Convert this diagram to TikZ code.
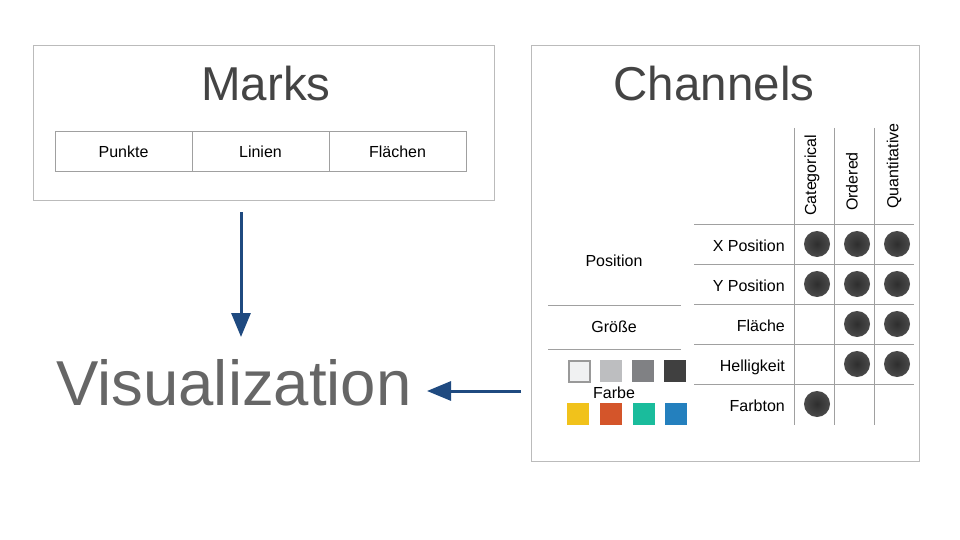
\documentclass[tikz,border=0pt]{standalone}
\usepackage{fontspec}
\setmainfont{Liberation Sans}
\usetikzlibrary{arrows.meta}
\definecolor{boxgray}{HTML}{BBBBBB}
\definecolor{linegray}{HTML}{A0A0A0}
\definecolor{titlegray}{HTML}{444444}
\definecolor{visgray}{HTML}{666666}
\definecolor{arrowblue}{HTML}{1F4A80}
\definecolor{gA}{HTML}{F0F1F2}
\definecolor{gB}{HTML}{BDBEC0}
\definecolor{gC}{HTML}{808184}
\definecolor{gD}{HTML}{404040}
\definecolor{cA}{HTML}{F1C21B}
\definecolor{cB}{HTML}{D4552A}
\definecolor{cC}{HTML}{1ABC9C}
\definecolor{cD}{HTML}{2480BE}
\definecolor{dotin}{HTML}{2E2E2E}
\definecolor{dotout}{HTML}{4A4A4A}
\tikzset{
  panel/.style={draw=boxgray, line width=1pt, inner sep=0pt, anchor=north west},
  bigtitle/.style={text=titlegray, font=\fontsize{47.5}{50}\selectfont, anchor=base, inner sep=0pt},
  small/.style={font=\fontsize{16}{19}\selectfont, inner sep=0pt, text=black},
  cell/.style={draw=linegray, line width=1pt, minimum width=137pt, minimum height=40pt, inner sep=0pt, font=\fontsize{16}{19}\selectfont},
  grid/.style={draw=linegray, line width=1pt},
  dot/.style={circle, minimum size=26pt, inner sep=0pt, shading=radial, inner color=dotin, outer color=dotout},
  swatch/.style={minimum size=22pt, inner sep=0pt, anchor=north west},
  arr/.style={draw=arrowblue, line width=3pt, -{Triangle[length=24pt,width=19pt]}},
}
\begin{document}
\begin{tikzpicture}[x=1pt,y=-1pt]
\useasboundingbox[fill=white] (0,0) rectangle (960,540);

% Marks panel
\node[panel, minimum width=461pt, minimum height=155pt] (marks) at (33,45) {};
\node[bigtitle] (markstitle) at (266,101) {Marks};
\node[cell] (punkte) at (123.5,152) {Punkte};
\node[cell] (linien) at (260.5,152) {Linien};
\node[cell] (flaechen) at (397.5,152) {Flächen};

% Channels panel
\node[panel, minimum width=388pt, minimum height=416pt] (channels) at (531,45) {};
\node[bigtitle] (chantitle) at (714,101) {Channels};

% grid lines
\foreach \x in {794,834,874} \draw[grid] (\x,128) -- (\x,425);
\foreach \y in {224,264,304,344,384} \draw[grid] (694,\y) -- (914,\y);
\draw[grid] (548,305) -- (681,305);
\draw[grid] (548,349) -- (681,349);

% column headers
\node[small, rotate=90, anchor=west] (hcat) at (812,216) {Categorical};
\node[small, rotate=90, anchor=west] (hord) at (852,211) {Ordered};
\node[small, rotate=90, anchor=west] (hquan) at (894,209) {Quantitative};

% row labels
\node[small, anchor=base east] (rx) at (785,251) {X Position};
\node[small, anchor=base east] (ry) at (785,291) {Y Position};
\node[small, anchor=base east] (rf) at (785,331) {Fläche};
\node[small, anchor=base east] (rh) at (785,371) {Helligkeit};
\node[small, anchor=base east] (rt) at (785,411) {Farbton};

% group labels
\node[small, anchor=base] (gpos) at (614,266) {Position};
\node[small, anchor=base] (ggr) at (614,332) {Größe};
\node[small, anchor=base] (gfarbe) at (614,398) {Farbe};

% swatches
\node[swatch, fill=gA, draw=gray!80, line width=1.5pt, minimum size=21pt] (s1) at (568,360) {};
\node[swatch, fill=gB] (s2) at (600,360) {};
\node[swatch, fill=gC] (s3) at (632,360) {};
\node[swatch, fill=gD] (s4) at (664,360) {};
\node[swatch, fill=cA] (s5) at (567,403) {};
\node[swatch, fill=cB] (s6) at (600,403) {};
\node[swatch, fill=cC] (s7) at (633,403) {};
\node[swatch, fill=cD] (s8) at (665,403) {};

% dots
\node[dot] (d11) at (817,244) {};
\node[dot] (d12) at (857,244) {};
\node[dot] (d13) at (897,244) {};
\node[dot] (d21) at (817,284) {};
\node[dot] (d22) at (857,284) {};
\node[dot] (d23) at (897,284) {};
\node[dot] (d32) at (857,324) {};
\node[dot] (d33) at (897,324) {};
\node[dot] (d42) at (857,364) {};
\node[dot] (d43) at (897,364) {};
\node[dot] (d51) at (817,404) {};

% Visualization
\node[anchor=base, inner sep=0pt, text=visgray, font=\fontsize{63.5}{66}\selectfont] (vis) at (234,405) {Visualization};

% arrows
\coordinate (a1s) at (241,212);
\coordinate (a1e) at (241,337);
\coordinate (a2s) at (521,391);
\coordinate (a2e) at (427,391);
\draw[arr] (a1s) -- (a1e);
\draw[arr] (a2s) -- (a2e);
\end{tikzpicture}
\end{document}
